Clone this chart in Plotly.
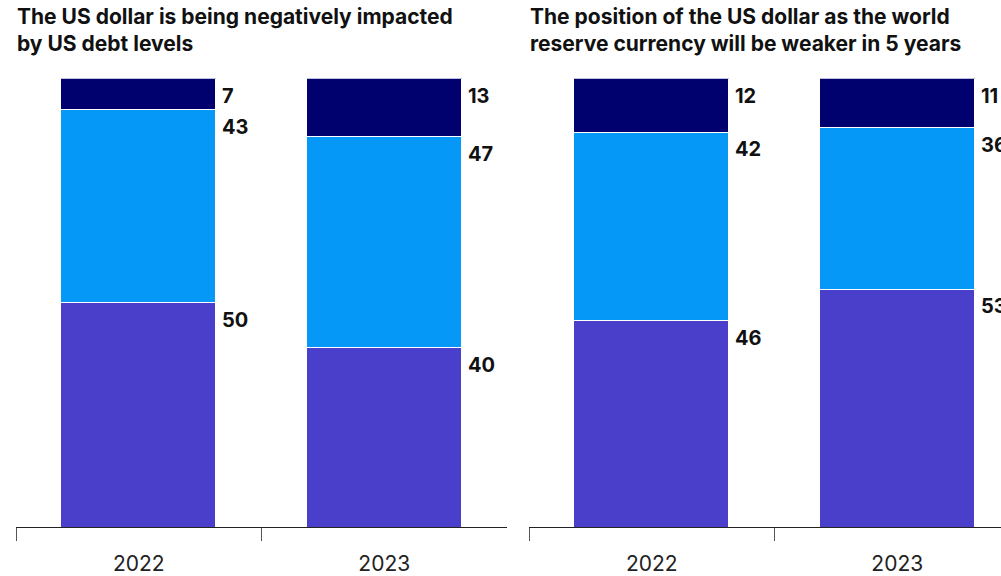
import plotly.graph_objects as go

W, H = 1001, 576

years = ["2022", "2023"]

# Panel 1: The US dollar is being negatively impacted by US debt levels
debt_bottom = [50, 40]
debt_middle = [43, 47]
debt_top = [7, 13]

# Panel 2: weaker reserve-currency position in 5 years
reserve_bottom = [46, 53]
reserve_middle = [42, 36]
reserve_top = [12, 11]

titles = [
    "The US dollar is being negatively impacted<br>by US debt levels",
    "The position of the US dollar as the world<br>reserve currency will be weaker in 5 years",
]

colors = ["#4A3FCB", "#0698F7", "#01006F"]

BAR_W = 0.63
FONT = "Inter"

fig = go.Figure()

panels = [
    ("x", "y", [debt_bottom, debt_middle, debt_top]),
    ("x2", "y2", [reserve_bottom, reserve_middle, reserve_top]),
]

annotations = []
for xa, ya, stacks in panels:
    for vals, col in zip(stacks, colors):
        fig.add_trace(go.Bar(
            x=years, y=vals, xaxis=xa, yaxis=ya, width=BAR_W,
            marker=dict(color=col, line=dict(color="white", width=1)),
            hoverinfo="skip", showlegend=False,
        ))
    # value labels at the top edge of each segment, right of the bar
    for i in range(len(years)):
        cum = 0
        for vals in stacks:
            cum += vals[i]
            annotations.append(dict(
                x=i + BAR_W / 2, y=cum, xref=xa, yref=ya,
                text=f"<b>{vals[i]}</b>", showarrow=False,
                xanchor="left", yanchor="middle", xshift=4, yshift=-17,
                font=dict(family=FONT, size=20, color="#111111"),
            ))

# Panel titles
for xpos, t in zip([15 / W, 528 / W], titles):
    annotations.append(dict(
        x=xpos, y=1, xref="paper", yref="paper", text=f"<b>{t}</b>",
        showarrow=False, xanchor="left", yanchor="top", align="left",
        yshift=-2, font=dict(family=FONT, size=21, color="#111111"),
    ))

y_dom = [(H - 530) / H, (H - 79) / H]
px_per_cat = (507 - 16) / 2
x2_span = (W - 529) / px_per_cat

xaxis_common = dict(
    type="category", showline=True, linecolor="#222222", linewidth=1,
    ticks="outside", tickson="boundaries", ticklen=13, tickcolor="#555555",
    tickwidth=1, showgrid=False, zeroline=False, fixedrange=True,
    ticklabelstandoff=18,
    tickfont=dict(family=FONT, size=21, color="#222222"),
)
yaxis_common = dict(range=[0, 100], visible=False, showgrid=False, fixedrange=True)

fig.update_layout(
    width=W, height=H, barmode="stack",
    paper_bgcolor="white", plot_bgcolor="white",
    margin=dict(l=0, r=0, t=0, b=0),
    xaxis=dict(domain=[16 / W, 507 / W], range=[-0.5, 1.5], **xaxis_common),
    xaxis2=dict(domain=[529 / W, 1.0], range=[-0.5, -0.5 + x2_span], anchor="y2", **xaxis_common),
    yaxis=dict(domain=y_dom, anchor="x", **yaxis_common),
    yaxis2=dict(domain=y_dom, anchor="x2", **yaxis_common),
    annotations=annotations,
    bargap=0,
)

fig.write_html("out.html")
